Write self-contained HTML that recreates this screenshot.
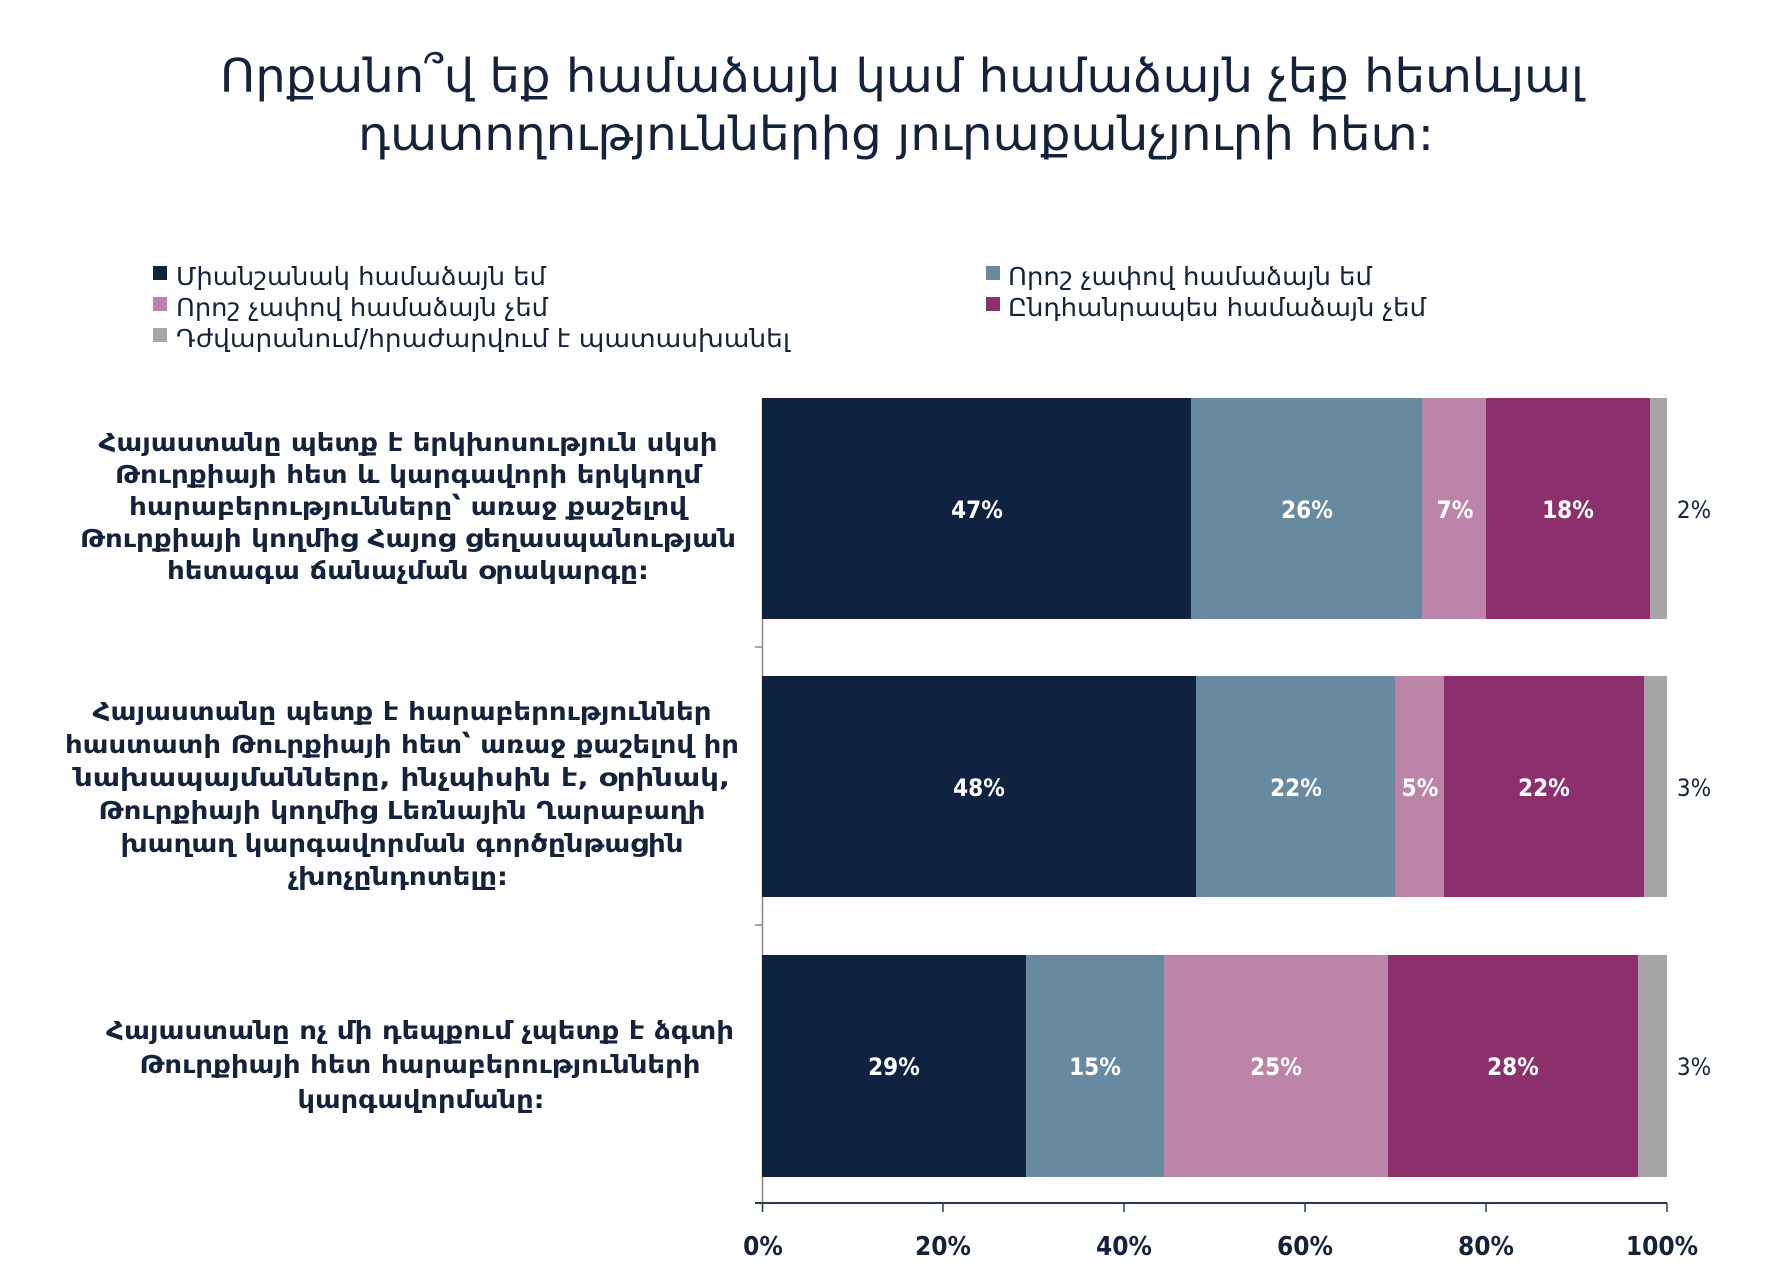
<!DOCTYPE html>
<html><head><meta charset="utf-8"><style>
html,body{margin:0;padding:0;background:#fff;}
svg{display:block;}
text{font-family:"DejaVu Sans Condensed","DejaVu Sans",sans-serif;fill:#14233c;}
.b{font-weight:bold;}
.w{fill:#fff;font-weight:bold;font-size:24px;}
</style></head><body>
<svg width="1792" height="1288" viewBox="0 0 1792 1288" xmlns="http://www.w3.org/2000/svg">
<rect width="1792" height="1288" fill="#fff"/>
<text x="220" y="92" font-size="46" textLength="1364" lengthAdjust="spacingAndGlyphs">Որքանո՞վ եք համաձայն կամ համաձայն չեք հետևյալ</text>
<text x="358" y="150" font-size="46" textLength="1076" lengthAdjust="spacingAndGlyphs">դատողություններից յուրաքանչյուրի հետ:</text>

<rect x="153" y="266" width="14" height="14" fill="#0f2340"/>
<text x="176" y="285" font-size="25" textLength="370" lengthAdjust="spacingAndGlyphs">Միանշանակ համաձայն եմ</text>
<rect x="153" y="297" width="14" height="14" fill="#bc84a9"/>
<text x="176" y="316" font-size="25" textLength="372" lengthAdjust="spacingAndGlyphs">Որոշ չափով համաձայն չեմ</text>
<rect x="153" y="328" width="14" height="14" fill="#a6a6a6"/>
<text x="176" y="347" font-size="25" textLength="614" lengthAdjust="spacingAndGlyphs">Դժվարանում/հրաժարվում է պատասխանել</text>
<rect x="986" y="266" width="14" height="14" fill="#678aa0"/>
<text x="1008" y="285" font-size="25" textLength="364" lengthAdjust="spacingAndGlyphs">Որոշ չափով համաձայն եմ</text>
<rect x="986" y="297" width="14" height="14" fill="#8b306c"/>
<text x="1008" y="316" font-size="25" textLength="418" lengthAdjust="spacingAndGlyphs">Ընդհանրապես համաձայն չեմ</text>

<!-- axes -->
<line x1="762.5" y1="398" x2="762.5" y2="1210" stroke="#888" stroke-width="1.5"/>
<line x1="755" y1="647" x2="762" y2="647" stroke="#888" stroke-width="1.5"/>
<line x1="755" y1="925" x2="762" y2="925" stroke="#888" stroke-width="1.5"/>
<line x1="755" y1="1203" x2="1667" y2="1203" stroke="#2b3a4e" stroke-width="2"/>
<g stroke="#2b3a4e" stroke-width="1.5">
<line x1="762.5" y1="1203" x2="762.5" y2="1212"/><line x1="943" y1="1203" x2="943" y2="1212"/><line x1="1124" y1="1203" x2="1124" y2="1212"/><line x1="1305" y1="1203" x2="1305" y2="1212"/><line x1="1486" y1="1203" x2="1486" y2="1212"/><line x1="1667" y1="1203" x2="1667" y2="1212"/>
</g>
<g class="b" font-size="26" text-anchor="middle">
<text x="763" y="1255">0%</text><text x="943" y="1255">20%</text><text x="1124" y="1255">40%</text><text x="1305" y="1255">60%</text><text x="1486" y="1255">80%</text><text x="1662" y="1255">100%</text>
</g>

<!-- bar1 -->
<rect x="762" y="398" width="429" height="221" fill="#0f2340"/>
<rect x="1191" y="398" width="231" height="221" fill="#678aa0"/>
<rect x="1422" y="398" width="64" height="221" fill="#bc84a9"/>
<rect x="1486" y="398" width="164" height="221" fill="#8b306c"/>
<rect x="1650" y="398" width="17" height="221" fill="#a6a6a6"/>
<text class="w" x="977" y="518" text-anchor="middle">47%</text>
<text class="w" x="1307" y="518" text-anchor="middle">26%</text>
<text class="w" x="1455" y="518" text-anchor="middle">7%</text>
<text class="w" x="1568" y="518" text-anchor="middle">18%</text>
<text x="1694" y="518" font-size="24" text-anchor="middle">2%</text>

<!-- bar2 -->
<rect x="762" y="676" width="434" height="221" fill="#0f2340"/>
<rect x="1196" y="676" width="199" height="221" fill="#678aa0"/>
<rect x="1395" y="676" width="49" height="221" fill="#bc84a9"/>
<rect x="1444" y="676" width="200" height="221" fill="#8b306c"/>
<rect x="1644" y="676" width="23" height="221" fill="#a6a6a6"/>
<text class="w" x="979" y="796" text-anchor="middle">48%</text>
<text class="w" x="1296" y="796" text-anchor="middle">22%</text>
<text class="w" x="1420" y="796" text-anchor="middle">5%</text>
<text class="w" x="1544" y="796" text-anchor="middle">22%</text>
<text x="1694" y="796" font-size="24" text-anchor="middle">3%</text>

<!-- bar3 -->
<rect x="762" y="955" width="264" height="222" fill="#0f2340"/>
<rect x="1026" y="955" width="138" height="222" fill="#678aa0"/>
<rect x="1164" y="955" width="224" height="222" fill="#bc84a9"/>
<rect x="1388" y="955" width="250" height="222" fill="#8b306c"/>
<rect x="1638" y="955" width="29" height="222" fill="#a6a6a6"/>
<text class="w" x="894" y="1075" text-anchor="middle">29%</text>
<text class="w" x="1095" y="1075" text-anchor="middle">15%</text>
<text class="w" x="1276" y="1075" text-anchor="middle">25%</text>
<text class="w" x="1513" y="1075" text-anchor="middle">28%</text>
<text x="1694" y="1075" font-size="24" text-anchor="middle">3%</text>

<!-- category labels -->
<g class="b" font-size="25" text-anchor="middle">
<text x="408" y="451" textLength="619" lengthAdjust="spacingAndGlyphs">Հայաստանը պետք է երկխոսություն սկսի</text>
<text x="408" y="483" textLength="586" lengthAdjust="spacingAndGlyphs">Թուրքիայի հետ և կարգավորի երկկողմ</text>
<text x="408" y="515" textLength="558" lengthAdjust="spacingAndGlyphs">հարաբերությունները՝ առաջ քաշելով</text>
<text x="408" y="547" textLength="656" lengthAdjust="spacingAndGlyphs">Թուրքիայի կողմից Հայոց ցեղասպանության</text>
<text x="408" y="579" textLength="482" lengthAdjust="spacingAndGlyphs">հետագա ճանաչման օրակարգը:</text>

<text x="402" y="720" textLength="619" lengthAdjust="spacingAndGlyphs">Հայաստանը պետք է հարաբերություններ</text>
<text x="402" y="753" textLength="674" lengthAdjust="spacingAndGlyphs">հաստատի Թուրքիայի հետ՝ առաջ քաշելով իր</text>
<text x="402" y="786" textLength="656" lengthAdjust="spacingAndGlyphs">նախապայմանները, ինչպիսին է, օրինակ,</text>
<text x="402" y="819" textLength="607" lengthAdjust="spacingAndGlyphs">Թուրքիայի կողմից Լեռնային Ղարաբաղի</text>
<text x="402" y="852" textLength="563" lengthAdjust="spacingAndGlyphs">խաղաղ կարգավորման գործընթացին</text>
<text x="398" y="885" textLength="220" lengthAdjust="spacingAndGlyphs">չխոչընդոտելը:</text>

<text x="420" y="1039" textLength="628" lengthAdjust="spacingAndGlyphs">Հայաստանը ոչ մի դեպքում չպետք է ձգտի</text>
<text x="420" y="1073" textLength="561" lengthAdjust="spacingAndGlyphs">Թուրքիայի հետ հարաբերությունների</text>
<text x="421" y="1108" textLength="247" lengthAdjust="spacingAndGlyphs">կարգավորմանը:</text>
</g>
</svg>
</body></html>
